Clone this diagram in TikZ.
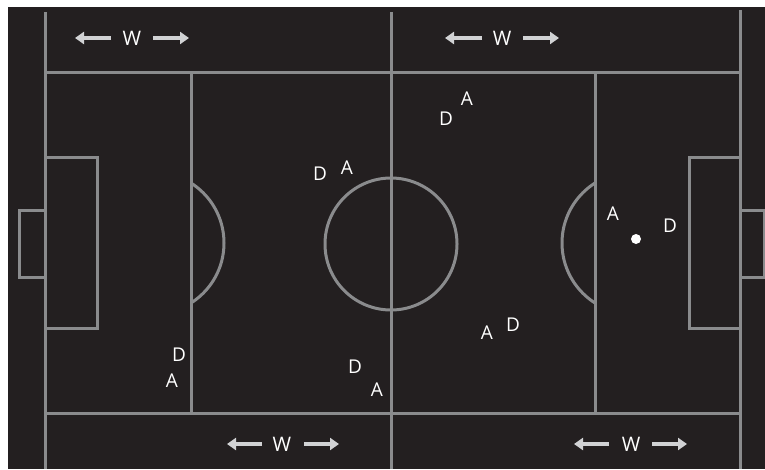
\documentclass[tikz,border=0pt]{standalone}
\usepackage{fontspec}
\setmainfont{Open Sans}
\usetikzlibrary{arrows.meta}
\definecolor{pitchbg}{HTML}{231F20}
\definecolor{pitchline}{HTML}{8A8B8D}
\definecolor{arrowgray}{HTML}{D1D2D4}
\begin{document}
\begin{tikzpicture}[x=1pt,y=-1pt,
  pl/.style={draw=pitchline,line width=3pt},
  player/.style={text=white,font=\fontsize{19}{19}\selectfont,inner sep=0pt},
  wlab/.style={text=white,font=\fontsize{20}{20}\selectfont,inner sep=0pt},
  warr/.style={draw=arrowgray,line width=3.5pt,-{Triangle[length=9pt,width=12pt]}}]
\useasboundingbox (0,0) rectangle (765,469);
\fill[white] (0,0) rectangle (765,469);
\fill[pitchbg] (8,7) rectangle (765,469);
% touchlines and halfway
\draw[pl] (45,12) -- (45,469);
\draw[pl] (391,12) -- (391,469);
\draw[pl] (740,10) -- (740,469);
\draw[pl] (45,72) -- (740,72);
\draw[pl] (45,413) -- (740,413);
\draw[pl] (191,72) -- (191,413);
\draw[pl] (595,72) -- (595,413);
% left box and goal
\draw[pl] (45,157) rectangle (97,328);
\draw[pl] (19,210) rectangle (45,277);
% right box and goal
\draw[pl] (689,157) rectangle (740,328);
\draw[pl] (740,210) rectangle (764,277);
% arcs
\begin{scope}
\clip (191,100) rectangle (260,400);
\draw[pl] (153,243) circle[radius=71];
\end{scope}
\begin{scope}
\clip (530,100) rectangle (595,400);
\draw[pl] (633,243) circle[radius=71];
\end{scope}
% centre circle
\draw[pl] (391,244) circle[radius=66];
% W labels with arrows
\node[wlab] (w1) at (132,38) {W};
\coordinate (w1l) at (75,38); \coordinate (w1r) at (189,38);
\draw[warr] (111,38) -- (w1l);
\draw[warr] (153,38) -- (w1r);
\node[wlab] (w2) at (502,38) {W};
\coordinate (w2l) at (445,38); \coordinate (w2r) at (559,38);
\draw[warr] (482,38) -- (w2l);
\draw[warr] (523,38) -- (w2r);
\node[wlab] (w3) at (282,444) {W};
\coordinate (w3l) at (227,444); \coordinate (w3r) at (339,444);
\draw[warr] (262,444) -- (w3l);
\draw[warr] (304,444) -- (w3r);
\node[wlab] (w4) at (631,444) {W};
\coordinate (w4l) at (574,444); \coordinate (w4r) at (687,444);
\draw[warr] (609,444) -- (w4l);
\draw[warr] (652,444) -- (w4r);
% players
\node[player] (d1) at (320,174) {D};
\node[player] (a1) at (347,168) {A};
\node[player] (d2) at (446,119) {D};
\node[player] (a2) at (467,99) {A};
\node[player] (d3) at (179,355) {D};
\node[player] (a3) at (172,381) {A};
\node[player] (d4) at (355,367) {D};
\node[player] (a4) at (377,390) {A};
\node[player] (a5) at (487,333) {A};
\node[player] (d5) at (513,325) {D};
\node[player] (a6) at (613,214) {A};
\node[player] (d6) at (670,226) {D};
% ball
\node[circle,fill=white,minimum size=10pt,inner sep=0pt] (ball) at (636,239) {};
\end{tikzpicture}
\end{document}
